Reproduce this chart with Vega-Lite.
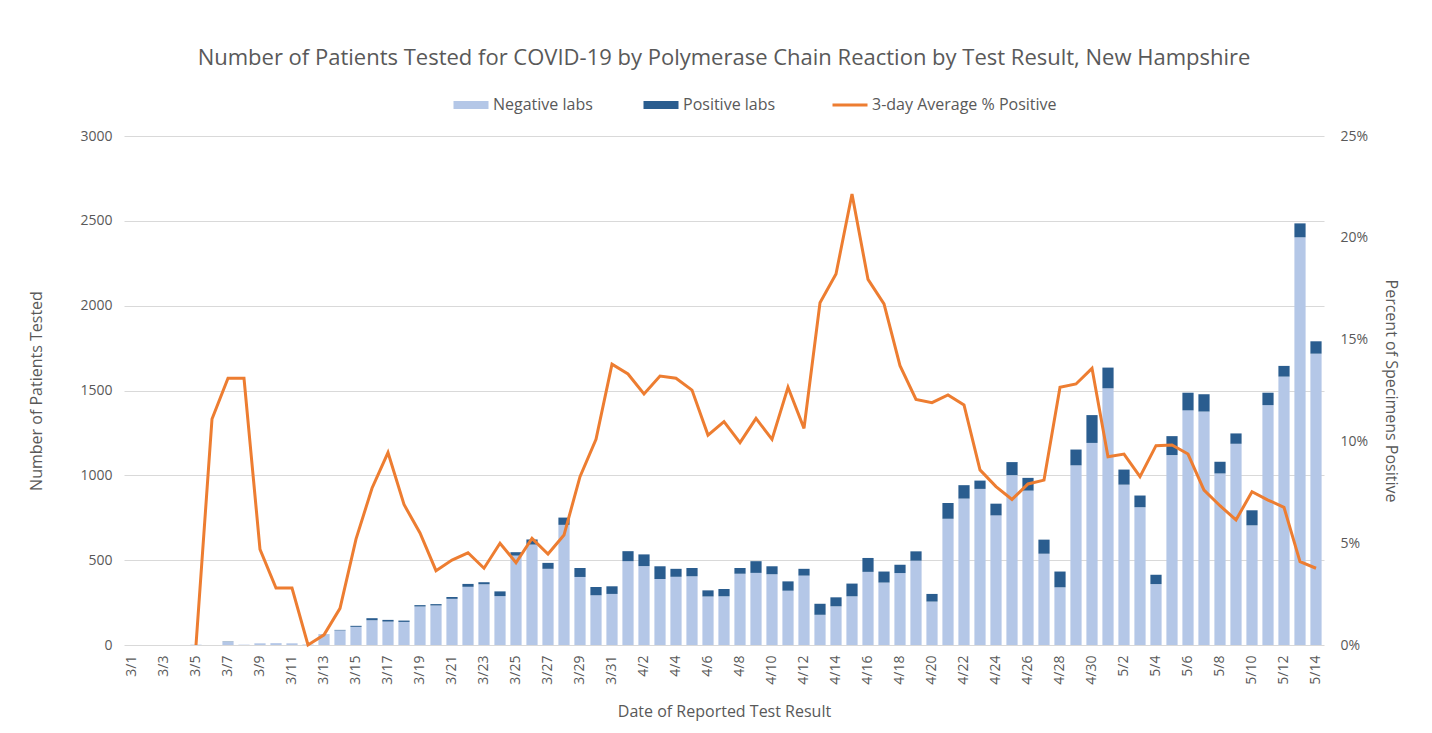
{
  "$schema": "https://vega.github.io/schema/vega-lite/v6.json",
  "width": 1200,
  "height": 509,
  "autosize": {"type": "none"},
  "padding": {"left": 124, "top": 136, "right": 108, "bottom": 88},
  "background": "white",
  "config": {
    "font": "Open Sans",
    "view": {"stroke": null},
    "axis": {"labelColor": "#595959", "titleColor": "#595959", "titleFontWeight": "normal", "labelFontSize": 14, "titleFontSize": 16, "gridColor": "#d9d9d9", "domain": false, "ticks": false}
  },
  "title": {"text": "Number of Patients Tested for COVID-19 by Polymerase Chain Reaction by Test Result, New Hampshire", "fontSize": 22, "fontWeight": "normal", "color": "#595959", "anchor": "middle", "frame": "group", "offset": 27},
  "data": {"values": [
    {"date": "2020-03-01", "Negative labs": 0, "Positive labs": 0, "pct": null},
    {"date": "2020-03-02", "Negative labs": 0, "Positive labs": 0, "pct": null},
    {"date": "2020-03-03", "Negative labs": 0, "Positive labs": 0, "pct": null},
    {"date": "2020-03-04", "Negative labs": 0, "Positive labs": 0, "pct": null},
    {"date": "2020-03-05", "Negative labs": 2, "Positive labs": 0, "pct": 0},
    {"date": "2020-03-06", "Negative labs": 0, "Positive labs": 0, "pct": 0.111},
    {"date": "2020-03-07", "Negative labs": 18, "Positive labs": 2, "pct": 0.131},
    {"date": "2020-03-08", "Negative labs": 2, "Positive labs": 0, "pct": 0.131},
    {"date": "2020-03-09", "Negative labs": 10, "Positive labs": 0, "pct": 0.047},
    {"date": "2020-03-10", "Negative labs": 11, "Positive labs": 0, "pct": 0.028},
    {"date": "2020-03-11", "Negative labs": 10, "Positive labs": 0, "pct": 0.028},
    {"date": "2020-03-12", "Negative labs": 3, "Positive labs": 0, "pct": 0},
    {"date": "2020-03-13", "Negative labs": 62, "Positive labs": 1, "pct": 0.005},
    {"date": "2020-03-14", "Negative labs": 86, "Positive labs": 3, "pct": 0.018},
    {"date": "2020-03-15", "Negative labs": 107, "Positive labs": 6, "pct": 0.052},
    {"date": "2020-03-16", "Negative labs": 146, "Positive labs": 12, "pct": 0.077},
    {"date": "2020-03-17", "Negative labs": 138, "Positive labs": 10, "pct": 0.0945},
    {"date": "2020-03-18", "Negative labs": 136, "Positive labs": 8, "pct": 0.069},
    {"date": "2020-03-19", "Negative labs": 227, "Positive labs": 8, "pct": 0.055},
    {"date": "2020-03-20", "Negative labs": 233, "Positive labs": 8, "pct": 0.0365},
    {"date": "2020-03-21", "Negative labs": 272, "Positive labs": 11, "pct": 0.0417},
    {"date": "2020-03-22", "Negative labs": 343, "Positive labs": 17, "pct": 0.0453},
    {"date": "2020-03-23", "Negative labs": 358, "Positive labs": 12, "pct": 0.0377},
    {"date": "2020-03-24", "Negative labs": 288, "Positive labs": 28, "pct": 0.05},
    {"date": "2020-03-25", "Negative labs": 527, "Positive labs": 20, "pct": 0.0404},
    {"date": "2020-03-26", "Negative labs": 592, "Positive labs": 30, "pct": 0.0524},
    {"date": "2020-03-27", "Negative labs": 449, "Positive labs": 35, "pct": 0.0447},
    {"date": "2020-03-28", "Negative labs": 708, "Positive labs": 43, "pct": 0.054},
    {"date": "2020-03-29", "Negative labs": 401, "Positive labs": 53, "pct": 0.0827},
    {"date": "2020-03-30", "Negative labs": 293, "Positive labs": 49, "pct": 0.101},
    {"date": "2020-03-31", "Negative labs": 301, "Positive labs": 45, "pct": 0.1379},
    {"date": "2020-04-01", "Negative labs": 494, "Positive labs": 59, "pct": 0.1331},
    {"date": "2020-04-02", "Negative labs": 465, "Positive labs": 69, "pct": 0.1233},
    {"date": "2020-04-03", "Negative labs": 389, "Positive labs": 75, "pct": 0.1321},
    {"date": "2020-04-04", "Negative labs": 402, "Positive labs": 47, "pct": 0.131},
    {"date": "2020-04-05", "Negative labs": 405, "Positive labs": 49, "pct": 0.1252},
    {"date": "2020-04-06", "Negative labs": 286, "Positive labs": 36, "pct": 0.1031},
    {"date": "2020-04-07", "Negative labs": 287, "Positive labs": 43, "pct": 0.1097},
    {"date": "2020-04-08", "Negative labs": 420, "Positive labs": 34, "pct": 0.0994},
    {"date": "2020-04-09", "Negative labs": 425, "Positive labs": 69, "pct": 0.1113},
    {"date": "2020-04-10", "Negative labs": 417, "Positive labs": 47, "pct": 0.101},
    {"date": "2020-04-11", "Negative labs": 320, "Positive labs": 55, "pct": 0.1266},
    {"date": "2020-04-12", "Negative labs": 409, "Positive labs": 40, "pct": 0.1064},
    {"date": "2020-04-13", "Negative labs": 178, "Positive labs": 65, "pct": 0.1681},
    {"date": "2020-04-14", "Negative labs": 228, "Positive labs": 53, "pct": 0.1822},
    {"date": "2020-04-15", "Negative labs": 287, "Positive labs": 75, "pct": 0.2215},
    {"date": "2020-04-16", "Negative labs": 431, "Positive labs": 82, "pct": 0.1796},
    {"date": "2020-04-17", "Negative labs": 368, "Positive labs": 65, "pct": 0.1675},
    {"date": "2020-04-18", "Negative labs": 424, "Positive labs": 49, "pct": 0.1372},
    {"date": "2020-04-19", "Negative labs": 497, "Positive labs": 55, "pct": 0.1206},
    {"date": "2020-04-20", "Negative labs": 256, "Positive labs": 45, "pct": 0.119},
    {"date": "2020-04-21", "Negative labs": 744, "Positive labs": 93, "pct": 0.1228},
    {"date": "2020-04-22", "Negative labs": 863, "Positive labs": 79, "pct": 0.1179},
    {"date": "2020-04-23", "Negative labs": 920, "Positive labs": 49, "pct": 0.086},
    {"date": "2020-04-24", "Negative labs": 764, "Positive labs": 69, "pct": 0.0778},
    {"date": "2020-04-25", "Negative labs": 1001, "Positive labs": 77, "pct": 0.0715},
    {"date": "2020-04-26", "Negative labs": 910, "Positive labs": 75, "pct": 0.0791},
    {"date": "2020-04-27", "Negative labs": 538, "Positive labs": 83, "pct": 0.081},
    {"date": "2020-04-28", "Negative labs": 340, "Positive labs": 93, "pct": 0.1266},
    {"date": "2020-04-29", "Negative labs": 1059, "Positive labs": 93, "pct": 0.1282},
    {"date": "2020-04-30", "Negative labs": 1191, "Positive labs": 164, "pct": 0.1359},
    {"date": "2020-05-01", "Negative labs": 1513, "Positive labs": 122, "pct": 0.0925},
    {"date": "2020-05-02", "Negative labs": 945, "Positive labs": 89, "pct": 0.0938},
    {"date": "2020-05-03", "Negative labs": 812, "Positive labs": 69, "pct": 0.0827},
    {"date": "2020-05-04", "Negative labs": 359, "Positive labs": 55, "pct": 0.0979},
    {"date": "2020-05-05", "Negative labs": 1119, "Positive labs": 112, "pct": 0.0982},
    {"date": "2020-05-06", "Negative labs": 1383, "Positive labs": 104, "pct": 0.0938},
    {"date": "2020-05-07", "Negative labs": 1376, "Positive labs": 102, "pct": 0.0761},
    {"date": "2020-05-08", "Negative labs": 1011, "Positive labs": 69, "pct": 0.0684},
    {"date": "2020-05-09", "Negative labs": 1186, "Positive labs": 61, "pct": 0.0614},
    {"date": "2020-05-10", "Negative labs": 705, "Positive labs": 89, "pct": 0.0753},
    {"date": "2020-05-11", "Negative labs": 1414, "Positive labs": 73, "pct": 0.0712},
    {"date": "2020-05-12", "Negative labs": 1582, "Positive labs": 63, "pct": 0.0676},
    {"date": "2020-05-13", "Negative labs": 2403, "Positive labs": 82, "pct": 0.0409},
    {"date": "2020-05-14", "Negative labs": 1717, "Positive labs": 73, "pct": 0.0377}
  ]},
  "encoding": {
    "x": {
      "field": "date", "timeUnit": "utcyearmonthdate", "type": "ordinal",
      "scale": {"paddingInner": 0.3, "paddingOuter": 0.15},
      "axis": {
        "title": "Date of Reported Test Result", "labelAngle": -90, "labelPadding": 10, "titlePadding": 19,
        "labelExpr": "(utcmonth(datum.value) == 2 ? utcdate(datum.value) % 2 == 1 : utcdate(datum.value) % 2 == 0) ? utcFormat(datum.value, '%-m/%-d') : ''"
      }
    }
  },
  "layer": [
    {
      "transform": [{"fold": ["Negative labs", "Positive labs"], "as": ["key", "count"]}],
      "mark": {"type": "bar"},
      "encoding": {
        "y": {"field": "count", "type": "quantitative", "stack": "zero",
          "scale": {"domain": [0, 3000]},
          "axis": {"title": "Number of Patients Tested", "format": "d", "values": [0, 500, 1000, 1500, 2000, 2500, 3000], "labelPadding": 12, "titlePadding": 35, "grid": true}},
        "order": {"field": "key", "sort": "ascending"},
        "color": {"field": "key", "type": "nominal",
          "scale": {"domain": ["Negative labs", "Positive labs", "3-day Average % Positive"], "range": ["#b4c7e7", "#2a5d8f", "#ed7d31"]},
          "legend": {
            "title": null, "orient": "none", "direction": "horizontal", "legendX": 339, "legendY": -39,
            "labelFontSize": 16, "labelColor": "#595959", "labelLimit": 400, "labelOffset": 14, "columnPadding": 50, "symbolSize": 1225,
            "encode": {
              "symbols": {"update": {
                "shape": {"signal": "datum.label == '3-day Average % Positive' ? 'stroke' : 'M-1,-0.23H1V0.23H-1Z'"},
                "strokeWidth": {"signal": "datum.label == '3-day Average % Positive' ? 3 : 0"},
                "stroke": {"scale": "color", "field": "value"},
                "fill": {"scale": "color", "field": "value"},
                "opacity": {"value": 1}
              }}
            }
          }}
      }
    },
    {
      "mark": {"type": "line", "strokeWidth": 3, "color": "#ed7d31"},
      "encoding": {
        "y": {"field": "pct", "type": "quantitative",
          "scale": {"domain": [0, 0.25]},
          "axis": {"orient": "right", "title": "Percent of Specimens Positive", "format": ".0%", "values": [0, 0.05, 0.1, 0.15, 0.2, 0.25], "grid": false, "labelPadding": 16, "titlePadding": 15}},
        "color": {"datum": "3-day Average % Positive"}
      }
    }
  ],
  "resolve": {"scale": {"y": "independent"}}
}
